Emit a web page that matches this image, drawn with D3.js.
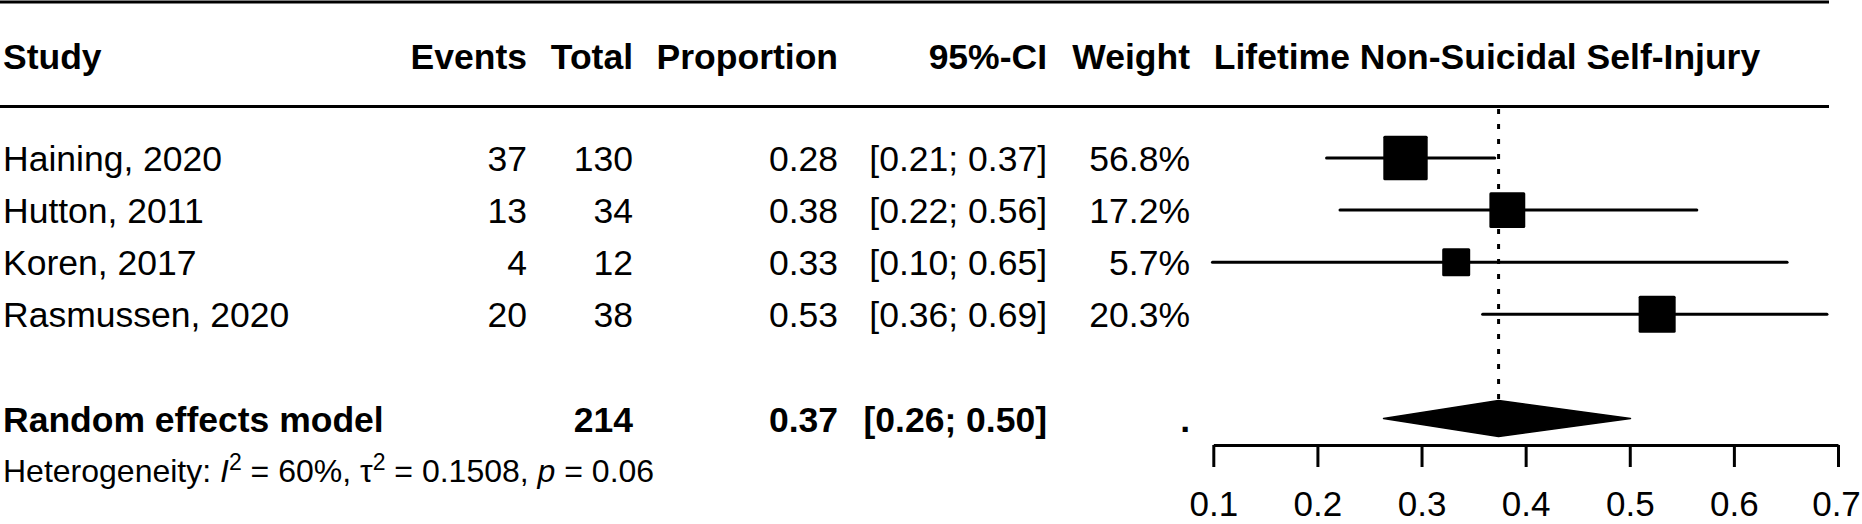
<!DOCTYPE html>
<html>
<head>
<meta charset="utf-8">
<script src="https://cdn.jsdelivr.net/npm/d3@7"></script>
<style>
  html, body { margin: 0; padding: 0; background: #fff; }
  svg { display: block; font-family: "Liberation Sans", Arial, Helvetica, sans-serif; }
</style>
</head>
<body>
<svg id="chart" width="1862" height="524"></svg>
<script>
// ---- data ----
const studies = ["Haining, 2020", "Hutton, 2011", "Koren, 2017", "Rasmussen, 2020"];
const events = [37, 13, 4, 20];
const totals = [130, 34, 12, 38];
const proportions = [0.2846, 0.3824, 0.3333, 0.5263];
const ciLower = [0.2088, 0.2217, 0.0992, 0.3587];
const ciUpper = [0.3703, 0.5644, 0.6511, 0.6894];
const weights = [56.8, 17.2, 5.7, 20.3];
const pooledLabel = "Random effects model";
const pooledTotal = 214;
const pooled = [0.374, 0.2635, 0.5007]; // estimate, lower, upper
const i2 = 60, tau2 = 0.1508, pval = 0.06;
const tickValues = [0.1, 0.2, 0.3, 0.4, 0.5, 0.6, 0.7];
const headers = ["Study", "Events", "Total", "Proportion", "95%-CI", "Weight"];
const plotTitle = "Lifetime Non-Suicidal Self-Injury";

// ---- layout ----
const svg = d3.select("#chart");
const FS = 35.5;
const x = d3.scaleLinear().domain([0.1, 0.7]).range([1213.3, 1838]);
const rowY = d3.scaleLinear().domain([0, 5]).range([158, 418.5]);
const sizeScale = d3.scaleLog().domain([5.7, 56.8]).range([28, 44.4]);
const f2 = d3.format(".2f");

// column anchors
const cols = [
  {x: 3, anchor: "start"},
  {x: 527, anchor: "end"},
  {x: 633, anchor: "end"},
  {x: 838, anchor: "end"},
  {x: 1047, anchor: "end"},
  {x: 1190, anchor: "end"}
];

// rules
[2, 106.5].forEach(yy => {
  svg.append("line").attr("x1", 0).attr("x2", 1829).attr("y1", yy).attr("y2", yy)
    .attr("stroke", "#000").attr("stroke-width", 3);
});

// headers
const headerBase = 68.5;
headers.forEach((h, i) => {
  svg.append("text").attr("x", cols[i].x).attr("y", headerBase)
    .attr("text-anchor", cols[i].anchor).attr("font-size", FS).attr("font-weight", "bold")
    .text(h);
});
svg.append("text").attr("x", 1487).attr("y", headerBase).attr("text-anchor", "middle")
  .attr("font-size", FS).attr("font-weight", "bold").text(plotTitle);

// study rows
const rows = studies.map((s, i) => ({
  study: s, ev: events[i], n: totals[i], p: proportions[i],
  lo: ciLower[i], hi: ciUpper[i], w: weights[i], i
}));

const rowG = svg.selectAll("g.row").data(rows).enter().append("g").attr("class", "row");
rowG.each(function(d) {
  const g = d3.select(this);
  const yb = rowY(d.i) + 12.5;
  const vals = [d.study, d.ev, d.n, f2(d.p), "[" + f2(d.lo) + "; " + f2(d.hi) + "]", d.w.toFixed(1) + "%"];
  vals.forEach((v, j) => {
    g.append("text").attr("x", cols[j].x).attr("y", yb)
      .attr("text-anchor", cols[j].anchor).attr("font-size", FS).text(v);
  });
});

// dashed reference line at pooled estimate
svg.append("line")
  .attr("x1", x(pooled[0])).attr("x2", x(pooled[0]))
  .attr("y1", 109).attr("y2", rowY(5) - 18)
  .attr("stroke", "#000").attr("stroke-width", 3)
  .attr("stroke-dasharray", "5,10");

// CI lines
rowG.append("line")
  .attr("x1", d => x(d.lo)).attr("x2", d => x(d.hi))
  .attr("y1", d => rowY(d.i)).attr("y2", d => rowY(d.i))
  .attr("stroke", "#000").attr("stroke-width", 3).attr("stroke-linecap", "round");

// squares
rowG.append("rect")
  .attr("x", d => x(d.p) - sizeScale(d.w) / 2)
  .attr("y", d => rowY(d.i) - sizeScale(d.w) / 2)
  .attr("width", d => sizeScale(d.w))
  .attr("height", d => sizeScale(d.w))
  .attr("rx", 1.5)
  .attr("fill", "#000");

// pooled row
const pyb = rowY(5) + 13;
const pooledVals = [pooledLabel, "", pooledTotal, f2(pooled[0]),
  "[" + f2(pooled[1]) + "; " + f2(pooled[2]) + "]", "."];
pooledVals.forEach((v, j) => {
  if (v === "") return;
  svg.append("text").attr("x", cols[j].x).attr("y", pyb)
    .attr("text-anchor", cols[j].anchor).attr("font-size", FS).attr("font-weight", "bold").text(v);
});

// diamond
const cy = rowY(5), dh = 18;
svg.append("path")
  .attr("d", `M${x(pooled[1])},${cy} L${x(pooled[0])},${cy - dh} L${x(pooled[2])},${cy} L${x(pooled[0])},${cy + dh} Z`)
  .attr("fill", "#000").attr("stroke", "#000").attr("stroke-width", 1.5)
  .attr("stroke-linejoin", "round");

// heterogeneity
const het = svg.append("text").attr("x", 3).attr("y", 482).attr("font-size", 32);
het.append("tspan").text("Heterogeneity: ");
het.append("tspan").attr("font-style", "italic").text("I");
het.append("tspan").attr("font-size", 23).attr("dy", -12).text("2");
het.append("tspan").attr("dy", 12).text(" = " + i2 + "%, ");
het.append("tspan").text("τ");
het.append("tspan").attr("font-size", 23).attr("dy", -12).text("2");
het.append("tspan").attr("dy", 12).text(" = " + tau2.toFixed(4) + ", ");
het.append("tspan").attr("font-style", "italic").text("p");
het.append("tspan").text(" = " + pval.toFixed(2));

// axis
const axis = d3.axisBottom(x).tickValues(tickValues).tickFormat(d3.format(".1f"))
  .tickSize(22).tickSizeOuter(0);
const ag = svg.append("g").attr("transform", "translate(0,445)").call(axis);
ag.select(".domain").attr("stroke", "#000").attr("stroke-width", 3);
ag.selectAll(".tick line").attr("stroke", "#000").attr("stroke-width", 3);
ag.selectAll(".tick text").attr("font-size", 35).attr("fill", "#000")
  .attr("font-family", "Liberation Sans, Arial, sans-serif")
  .attr("y", 71).attr("dy", 0)
  .attr("dx", (d, i, n) => i === n.length - 1 ? -2 : 0);
</script>
</body>
</html>
